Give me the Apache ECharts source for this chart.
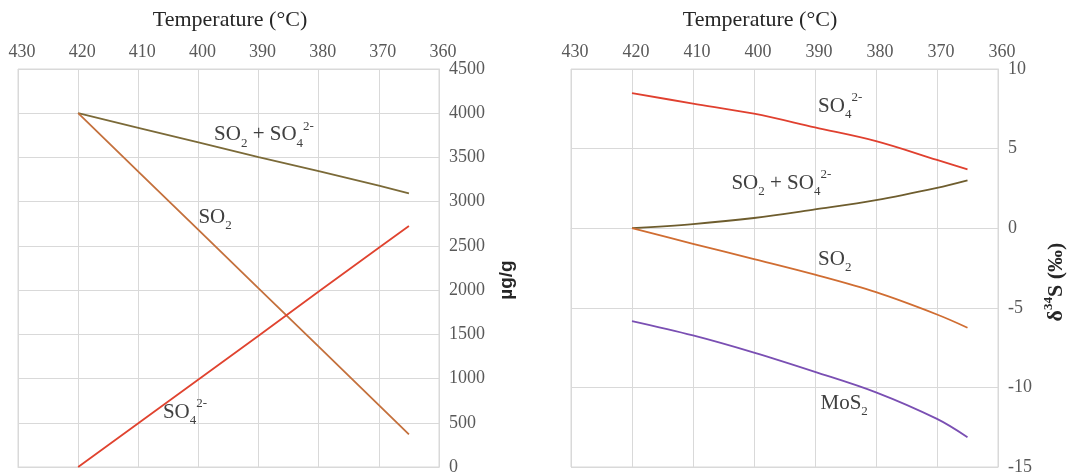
<!DOCTYPE html>
<html>
<head>
<meta charset="utf-8">
<script src="https://cdn.jsdelivr.net/npm/echarts@6/dist/echarts.min.js"></script>
<style>
  html, body { margin: 0; padding: 0; background: #ffffff; }
  #chart { width: 1068px; height: 476px; }
</style>
</head>
<body>
<div id="chart"></div>
<script>
// Temperature steps (°C), shared by both panels
var temps = [420, 410, 400, 390, 380, 370, 365];

// Left panel: concentrations (µg/g)
var concSO2 = [4000, 3340, 2680, 2020, 1360, 700, 370];
var concSO4 = [0, 495, 990, 1485, 1985, 2480, 2725];
var concSum = [4000, 3835, 3670, 3505, 3345, 3180, 3095];

// Right panel: δ34S (‰)
var dSO4 = [8.48, 7.83, 7.19, 6.33, 5.47, 4.29, 3.69];
var dSum = [0.0, 0.26, 0.64, 1.18, 1.76, 2.53, 3.0];
var dSO2 = [0.0, -0.98, -1.94, -2.92, -4.02, -5.42, -6.25];
var dMoS2 = [-5.83, -6.73, -7.81, -9.02, -10.31, -11.98, -13.13];

// Axis ranges and tick spacing
var tempRange = [360, 430, 10];
var concRange = [0, 4500, 500];
var deltaRange = [-15, 10, 5];

// Species labels: [text, temperature, value]
var leftLabels = {
  sum: ['{a|SO}{b|2}{a| + SO}{b|4}{c|2-}', 397.4, 3755],
  so2: ['{a|SO}{b|2}', 400.0, 2826],
  so4: ['{a|SO}{b|4}{c|2-}', 405.9, 620]
};
var rightLabels = {
  so4: ['{a|SO}{b|4}{c|2-}', 389.5, 7.66],
  sum: ['{a|SO}{b|2}{a| + SO}{b|4}{c|2-}', 403.7, 2.81],
  so2: ['{a|SO}{b|2}', 389.5, -1.94],
  mos2: ['{a|MoS}{b|2}', 389.1, -11.0]
};

function pairs(xs, ys) {
  return xs.map(function (x, i) { return [x, ys[i]]; });
}

var SERIF = 'Liberation Serif';
var GRID_C = '#d9d9d9';
var TICK_C = '#595959';

var rich = {
  a: { fontFamily: SERIF, fontSize: 21, color: '#404040', lineHeight: 30 },
  b: { fontFamily: SERIF, fontSize: 13, color: '#404040', lineHeight: 14, verticalAlign: 'bottom' },
  c: { fontFamily: SERIF, fontSize: 13, color: '#404040', lineHeight: 14, verticalAlign: 'top' }
};

function tag(lbl) {
  return {
    symbol: 'circle',
    symbolSize: 0,
    silent: true,
    label: { show: true, position: 'right', distance: 0, formatter: lbl[0], rich: rich },
    data: [{ coord: [lbl[1], lbl[2]] }]
  };
}

function plain(v) { return String(v); }

function xAxisFor(gi) {
  return {
    type: 'value', gridIndex: gi, position: 'top', inverse: true,
    min: tempRange[0], max: tempRange[1], interval: tempRange[2],
    axisLine: { show: true, lineStyle: { color: GRID_C } },
    axisTick: { show: false },
    axisLabel: { color: TICK_C, fontFamily: SERIF, fontSize: 18, margin: 8,
                 padding: [0, 0, 0, 8], formatter: plain },
    splitLine: { show: true, lineStyle: { color: GRID_C } }
  };
}

function yAxisFor(gi, r) {
  return {
    type: 'value', gridIndex: gi, position: 'right',
    min: r[0], max: r[1], interval: r[2],
    axisLine: { show: true, lineStyle: { color: GRID_C } },
    axisTick: { show: false },
    axisLabel: { color: TICK_C, fontFamily: SERIF, fontSize: 18, margin: 10, formatter: plain },
    splitLine: { show: true, lineStyle: { color: GRID_C } }
  };
}

function line(name, gi, ys, color, smooth, lbl) {
  return {
    name: name, type: 'line', xAxisIndex: gi, yAxisIndex: gi,
    data: pairs(temps, ys), symbol: 'none', smooth: smooth,
    lineStyle: { color: color, width: 1.8 },
    markPoint: tag(lbl)
  };
}

var chart = echarts.init(document.getElementById('chart'));
chart.setOption({
  backgroundColor: '#ffffff',
  animation: false,
  grid: [
    { left: 18, right: 629, top: 69, bottom: 9, show: true, borderColor: GRID_C, borderWidth: 1 },
    { left: 571, right: 70, top: 69, bottom: 8, show: true, borderColor: GRID_C, borderWidth: 1 }
  ],
  xAxis: [xAxisFor(0), xAxisFor(1)],
  yAxis: [yAxisFor(0, concRange), yAxisFor(1, deltaRange)],
  series: [
    line('SO2 + SO4 2-', 0, concSum, '#7b6a38', false, leftLabels.sum),
    line('SO2', 0, concSO2, '#c4703c', false, leftLabels.so2),
    line('SO4 2-', 0, concSO4, '#e0432f', false, leftLabels.so4),
    line('SO4 2-', 1, dSO4, '#e0402f', 0.35, rightLabels.so4),
    line('SO2 + SO4 2-', 1, dSum, '#6e5d2e', 0.35, rightLabels.sum),
    line('SO2', 1, dSO2, '#d06d32', 0.35, rightLabels.so2),
    line('MoS2', 1, dMoS2, '#7a4fb3', 0.35, rightLabels.mos2)
  ],
  graphic: [
    { type: 'text', x: 230, y: 20, silent: true,
      style: { text: 'Temperature (°C)', font: '22px "Liberation Serif"', fill: '#262626',
               textAlign: 'center', textVerticalAlign: 'middle' } },
    { type: 'text', x: 760, y: 20, silent: true,
      style: { text: 'Temperature (°C)', font: '22px "Liberation Serif"', fill: '#262626',
               textAlign: 'center', textVerticalAlign: 'middle' } },
    { type: 'text', x: 507, y: 280, rotation: Math.PI / 2, silent: true,
      style: { text: 'µg/g', font: 'bold 19px "Liberation Sans"', fill: '#262626',
               textAlign: 'center', textVerticalAlign: 'middle' } },
    { type: 'text', x: 1056, y: 282, rotation: Math.PI / 2, silent: true,
      style: { text: '{a|δ}{s|34}{a|S (‰)}', textAlign: 'center', textVerticalAlign: 'middle',
               rich: {
                 a: { font: 'bold 22px "Liberation Serif"', fill: '#262626', lineHeight: 28 },
                 s: { font: 'bold 13px "Liberation Serif"', fill: '#262626', lineHeight: 14, verticalAlign: 'top' }
               } } }
  ]
});
</script>
</body>
</html>
